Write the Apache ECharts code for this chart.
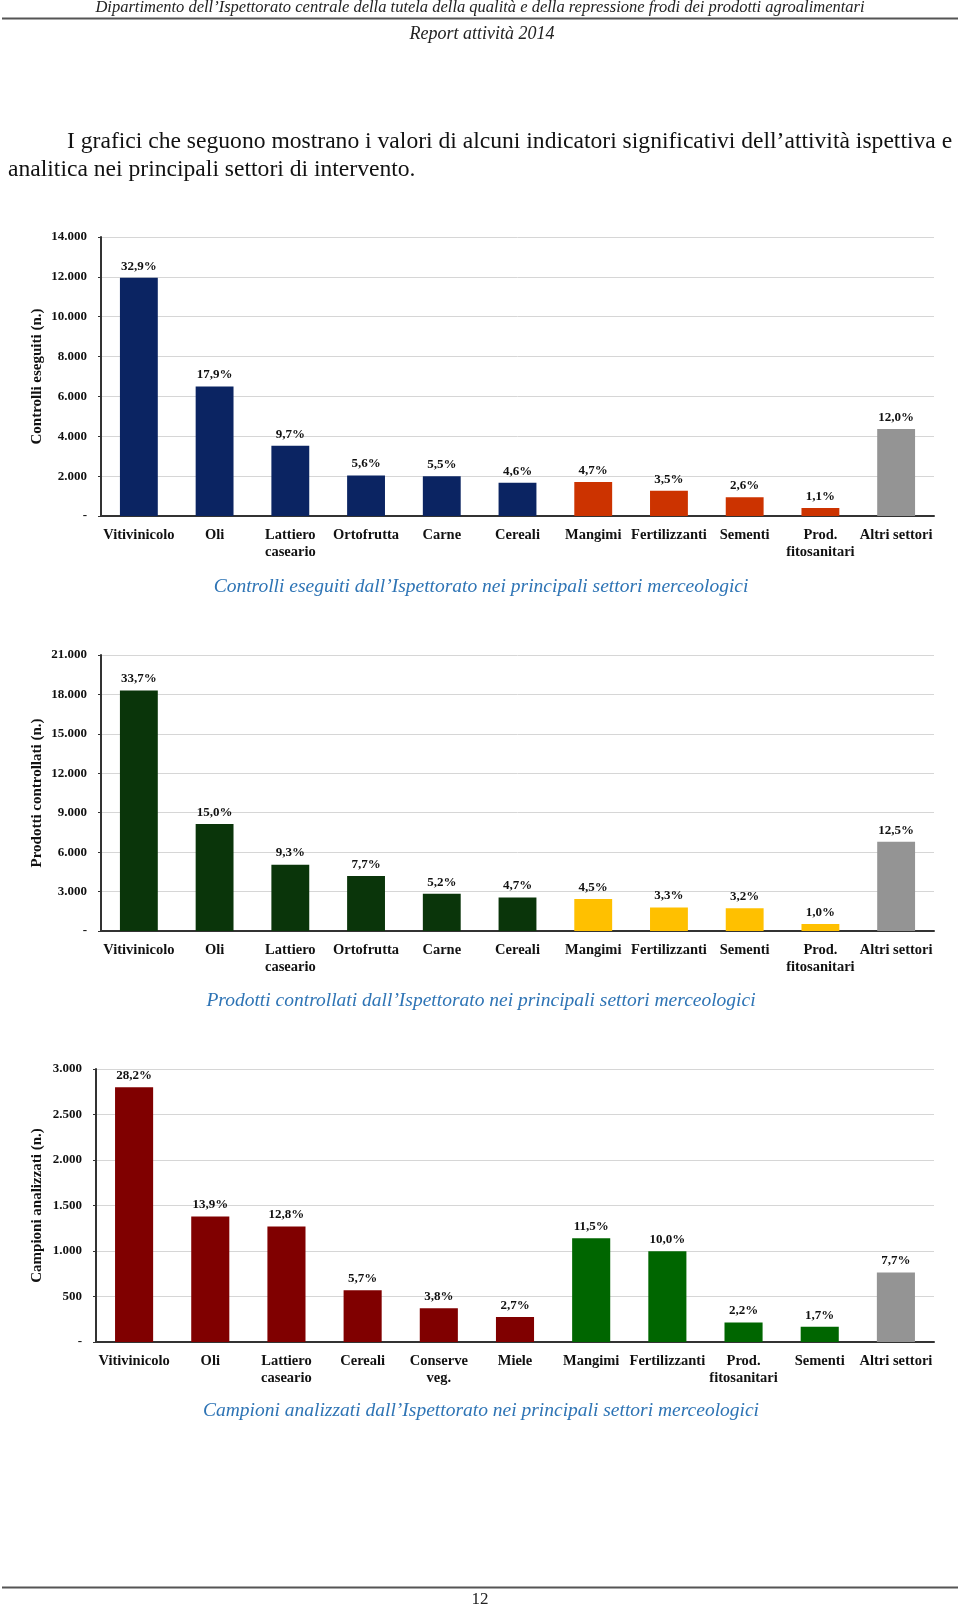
<!DOCTYPE html>
<html>
<head>
<meta charset="utf-8">
<style>
html,body{margin:0;padding:0;background:#fff;}
#c{width:960px;height:1608px;}
</style>
<script src="https://cdn.jsdelivr.net/npm/echarts@6/dist/echarts.min.js"></script>
</head>
<body>
<div id="c"></div>
<script>
// ---------- DATA ----------
const categories1 = ['Vitivinicolo','Oli','Lattiero\ncaseario','Ortofrutta','Carne','Cereali','Mangimi','Fertilizzanti','Sementi','Prod.\nfitosanitari','Altri settori'];
const values1 = [11950, 6500, 3520, 2030, 2000, 1670, 1710, 1270, 940, 400, 4360];
const pct1 = [32.9, 17.9, 9.7, 5.6, 5.5, 4.6, 4.7, 3.5, 2.6, 1.1, 12.0];
const group1 = [0,0,0,0,0,0,1,1,1,1,2];

const categories2 = ['Vitivinicolo','Oli','Lattiero\ncaseario','Ortofrutta','Carne','Cereali','Mangimi','Fertilizzanti','Sementi','Prod.\nfitosanitari','Altri settori'];
const values2 = [18300, 8150, 5050, 4180, 2830, 2550, 2440, 1790, 1740, 540, 6790];
const pct2 = [33.7, 15.0, 9.3, 7.7, 5.2, 4.7, 4.5, 3.3, 3.2, 1.0, 12.5];
const group2 = [0,0,0,0,0,0,1,1,1,1,2];

const categories3 = ['Vitivinicolo','Oli','Lattiero\ncaseario','Cereali','Conserve\nveg.','Miele','Mangimi','Fertilizzanti','Prod.\nfitosanitari','Sementi','Altri settori'];
const values3 = [2800, 1380, 1270, 568, 372, 275, 1141, 996, 215, 168, 763];
const pct3 = [28.2, 13.9, 12.8, 5.7, 3.8, 2.7, 11.5, 10.0, 2.2, 1.7, 7.7];
const group3 = [0,0,0,0,0,0,1,1,1,1,2];

const axisNames = ['Controlli eseguiti (n.)', 'Prodotti controllati (n.)', 'Campioni analizzati (n.)'];
const chartTitles = [
  'Controlli eseguiti dall\u2019Ispettorato nei principali settori merceologici',
  'Prodotti controllati dall\u2019Ispettorato nei principali settori merceologici',
  'Campioni analizzati dall\u2019Ispettorato nei principali settori merceologici'
];
const headerText = 'Dipartimento dell\u2019Ispettorato centrale della tutela della qualit\u00e0 e della repressione frodi dei prodotti agroalimentari';
const subHeaderText = 'Report attivit\u00e0 2014';
const paraLine1 = 'I grafici che seguono mostrano i valori di alcuni indicatori significativi dell\u2019attivit\u00e0 ispettiva e';
const paraLine2 = 'analitica nei principali settori di intervento.';
const pageNumber = '12';

// ---------- STYLE ----------
const palettes = [
  ['#0b2462', '#cc3300', '#949494'],
  ['#0a350a', '#ffc000', '#949494'],
  ['#800000', '#006600', '#949494']
];
const SERIF = '"Liberation Serif", "DejaVu Serif", serif';
const axisMax = [14000, 21000, 3000];
const axisInterval = [2000, 3000, 500];
const grids = [
  {left: 101, top: 237, width: 833, height: 279},
  {left: 101, top: 655, width: 833, height: 276},
  {left: 96, top: 1069, width: 838, height: 273}
];
const titleY = [587, 1001, 1411];
const nameGaps = [56, 56, 51];

function fmtNum(v){
  if (v === 0) return '-';
  return String(v).replace(/\B(?=(\d{3})+(?!\d))/g, '.');
}
function fmtPct(p){ return p.toFixed(1).replace('.', ',') + '%'; }

const cats = [categories1, categories2, categories3];
const vals = [values1, values2, values3];
const pcts = [pct1, pct2, pct3];
const groups = [group1, group2, group3];

const option = {
  animation: false,
  backgroundColor: '#fff',
  grid: grids.map(g => Object.assign({containLabel: false}, g)),
  xAxis: cats.map((c, i) => ({
    type: 'category',
    gridIndex: i,
    data: c,
    axisLine: {lineStyle: {color: '#333', width: 2}},
    axisTick: {show: false},
    axisLabel: {interval: 0, color: '#111', fontFamily: SERIF, fontWeight: 'bold', fontSize: 14.5, lineHeight: 17, margin: 11}
  })),
  yAxis: axisMax.map((m, i) => ({
    type: 'value',
    gridIndex: i,
    min: 0, max: m, interval: axisInterval[i],
    name: axisNames[i],
    nameLocation: 'middle',
    nameGap: nameGaps[i],
    nameMoveOverlap: false,
    nameTextStyle: {fontFamily: SERIF, fontWeight: 'bold', fontSize: 15, color: '#111'},
    axisLine: {show: true, lineStyle: {color: '#333', width: 2}},
    axisTick: {show: true, length: 3, lineStyle: {color: '#333'}},
    axisLabel: {formatter: fmtNum, color: '#111', fontFamily: SERIF, fontWeight: 'bold', fontSize: 13, margin: 14},
    splitLine: {lineStyle: {color: '#d6d6d6', width: 1}}
  })),
  series: vals.map((v, i) => ({
    type: 'bar',
    xAxisIndex: i, yAxisIndex: i,
    barWidth: '50%',
    data: v.map((val, j) => ({value: val, itemStyle: {color: palettes[i][groups[i][j]]}})),
    label: {
      show: true, position: 'top', distance: 5,
      fontFamily: SERIF, fontWeight: 'bold', fontSize: 13, color: '#111',
      formatter: p => fmtPct(pcts[i][p.dataIndex])
    }
  })),
  graphic: [
    {type: 'text', x: 480, y: 8, style: {text: headerText, font: 'italic 16.5px ' + SERIF, fill: '#222', textAlign: 'center', textVerticalAlign: 'middle'}},
    {type: 'line', shape: {x1: 2, y1: 18.5, x2: 958, y2: 18.5}, style: {stroke: '#555', lineWidth: 2}},
    {type: 'text', x: 482, y: 34, style: {text: subHeaderText, font: 'italic 18px ' + SERIF, fill: '#222', textAlign: 'center', textVerticalAlign: 'middle'}},
    {type: 'text', x: 67, y: 142, style: {text: paraLine1, font: '23.6px ' + SERIF, fill: '#111', textVerticalAlign: 'middle'}},
    {type: 'text', x: 8, y: 169.5, style: {text: paraLine2, font: '23.6px ' + SERIF, fill: '#111', textVerticalAlign: 'middle'}},
    ...chartTitles.map((t, i) => ({type: 'text', x: 481, y: titleY[i], style: {text: t, font: 'italic 19.5px ' + SERIF, fill: '#2e74b5', textAlign: 'center', textVerticalAlign: 'middle'}})),
    {type: 'line', shape: {x1: 2, y1: 1587.5, x2: 958, y2: 1587.5}, style: {stroke: '#555', lineWidth: 2}},
    {type: 'text', x: 480, y: 1600, style: {text: pageNumber, font: '17px ' + SERIF, fill: '#222', textAlign: 'center', textVerticalAlign: 'middle'}}
  ]
};

const chart = echarts.init(document.getElementById('c'), null, {renderer: 'canvas'});
chart.setOption(option);
</script>
</body>
</html>
